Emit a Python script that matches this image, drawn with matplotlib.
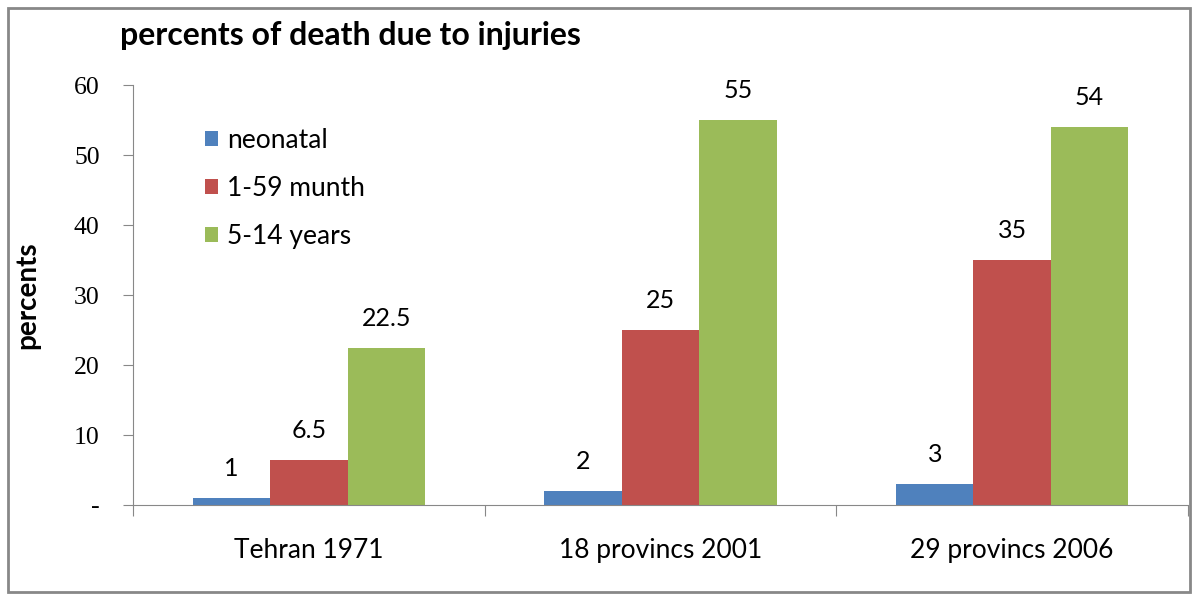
import matplotlib
matplotlib.use("Agg")
import matplotlib.pyplot as plt
import numpy as np
from matplotlib.patches import Rectangle

categories = ["Tehran 1971", "18 provincs 2001", "29 provincs 2006"]
series_names = ["neonatal", "1-59 munth", "5-14 years"]
neonatal = [1, 2, 3]
munth = [6.5, 25, 35]
years = [22.5, 55, 54]
labels_text = [["1", "2", "3"], ["6.5", "25", "35"], ["22.5", "55", "54"]]
colors = ["#4F81BD", "#C0504D", "#9BBB59"]
yticks = [0, 10, 20, 30, 40, 50, 60]
ytick_labels = ["-", "10", "20", "30", "40", "50", "60"]

fig = plt.figure(figsize=(12, 6), dpi=100)
fig.patches.append(Rectangle((8/1200, 8/600), 1182/1200, 584/600, transform=fig.transFigure,
                             fill=False, edgecolor="#888888", linewidth=2))
ax = fig.add_axes([133/1200, 1-505/600, 1055/1200, 420/600])

x = np.arange(len(categories))
w = 0.22
data = [neonatal, munth, years]
for i, (vals, c, name) in enumerate(zip(data, colors, series_names)):
    pos = x + (i - 1) * w
    ax.bar(pos, vals, width=w, color=c, label=name)
    for p, v, t in zip(pos, vals, labels_text[i]):
        ax.annotate(t, (p, v), xytext=(0, 21), textcoords="offset points",
                    ha="center", va="center", fontsize=18, family="Lato")

ax.set_xlim(-0.5, 2.5)
ax.set_ylim(0, 60)
ax.set_yticks(yticks)
ax.set_yticklabels(ytick_labels, family="Liberation Serif", fontsize=18.5)
ax.set_xticks([-0.5, 0.5, 1.5, 2.5], minor=False)
ax.set_xticklabels([])
ax.set_xticks(x, minor=True)
ax.set_xticklabels(categories, minor=True, fontsize=19, family="Lato")
ax.tick_params(axis="x", which="minor", length=0, pad=24)
ax.tick_params(axis="x", which="major", length=8, color="#888888")
ax.tick_params(axis="y", length=7, color="#888888", pad=17)
for s in ["top", "right"]:
    ax.spines[s].set_visible(False)
for s in ["left", "bottom"]:
    ax.spines[s].set_color("#888888")

ax.set_ylabel("percents", fontsize=20, fontweight="bold", family="Lato")
ax.yaxis.set_label_coords(-0.088, 0.5)

fig.text(120/1200, 1-35/600, "percents of death due to injuries", fontsize=23,
         fontweight="bold", family="Lato", va="center", ha="left")

leg = ax.legend(loc="upper left", bbox_to_anchor=(0.068, 0.898), frameon=False,
                prop={"family": "Lato", "size": 19}, borderpad=0, borderaxespad=0,
                handlelength=0.5, handleheight=0.5, handletextpad=0.35, labelspacing=0.88)

fig.savefig("out.png", dpi=100)
